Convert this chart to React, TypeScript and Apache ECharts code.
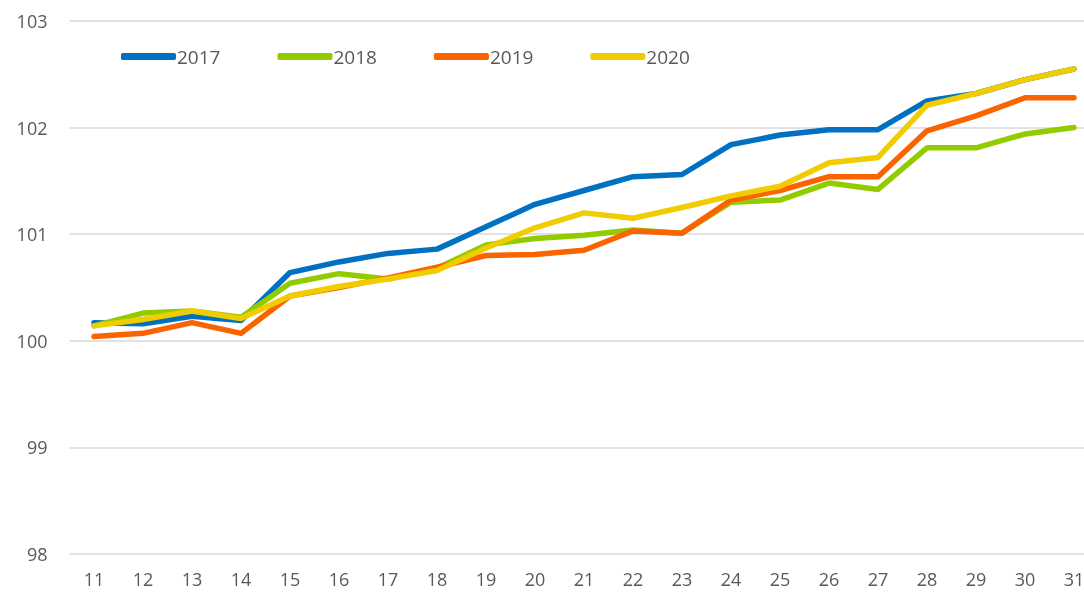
import React, { useEffect, useRef } from "react";
import * as echarts from "echarts";

const categories = ["11","12","13","14","15","16","17","18","19","20","21","22","23","24","25","26","27","28","29","30","31"];
const s2017 = [100.17,100.16,100.23,100.19,100.64,100.74,100.82,100.86,101.07,101.28,101.41,101.54,101.56,101.84,101.93,101.98,101.98,102.25,102.32,102.45,102.55];
const s2018 = [100.14,100.26,100.28,100.22,100.54,100.63,100.58,100.68,100.90,100.96,100.99,101.04,101.01,101.30,101.32,101.48,101.42,101.81,101.81,101.94,102.00];
const s2019 = [100.04,100.07,100.17,100.07,100.42,100.50,100.59,100.69,100.80,100.81,100.85,101.03,101.01,101.32,101.41,101.54,101.54,101.97,102.11,102.28,102.28];
const s2020 = [100.14,100.20,100.28,100.21,100.42,100.51,100.58,100.66,100.87,101.06,101.20,101.15,101.25,101.36,101.45,101.67,101.72,102.21,102.32,102.45,102.55];
const seriesNames = ["2017", "2018", "2019", "2020"];
const colors = ["#0070C0", "#92CC00", "#FA6400", "#F0CC00"];

export default function App() {
  const ref = useRef<HTMLDivElement>(null);
  useEffect(() => {
    if (!ref.current) return;
    const chart = echarts.init(ref.current, null, { renderer: "svg" });
    const data = [s2017, s2018, s2019, s2020];
    const font = "'Open Sans', 'Noto Sans', sans-serif";
    chart.setOption({
      animation: false,
      color: colors,
      textStyle: { fontFamily: font },
      legend: {
        left: 116,
        top: 42,
        itemWidth: 55,
        itemHeight: 7,
        itemGap: 57,
        icon: "roundRect",
        textStyle: { color: "#595959", fontSize: 19, fontFamily: font, padding: [0, 0, 0, -4] },
        data: seriesNames,
      },
      grid: {
        left: 69.5,
        right: -14.5,
        top: 21,
        bottom: 41,
        containLabel: false,
        outerBoundsMode: "none",
      },
      xAxis: {
        type: "category",
        data: categories,
        boundaryGap: true,
        axisLine: { show: false },
        axisTick: { show: false },
        axisLabel: { color: "#595959", fontSize: 18, margin: 16, fontFamily: font },
        splitLine: { show: false },
      },
      yAxis: {
        type: "value",
        min: 98,
        max: 103,
        interval: 1,
        axisLine: { show: false },
        axisTick: { show: false },
        axisLabel: { color: "#595959", fontSize: 18, margin: 22, fontFamily: font },
        splitLine: { lineStyle: { color: "#d9d9d9", width: 1.5 } },
      },
      series: data.map((d, i) => ({
        name: seriesNames[i],
        type: "line",
        data: d,
        symbol: "none",
        lineStyle: { width: 5.5, color: colors[i], cap: "round", join: "round" },
        itemStyle: { color: colors[i] },
      })),
    });
    return () => chart.dispose();
  }, []);
  return (
    <div
      ref={ref}
      style={{ position: "fixed", left: 0, top: 0, width: 1084, height: 595, overflow: "hidden" }}
    />
  );
}
